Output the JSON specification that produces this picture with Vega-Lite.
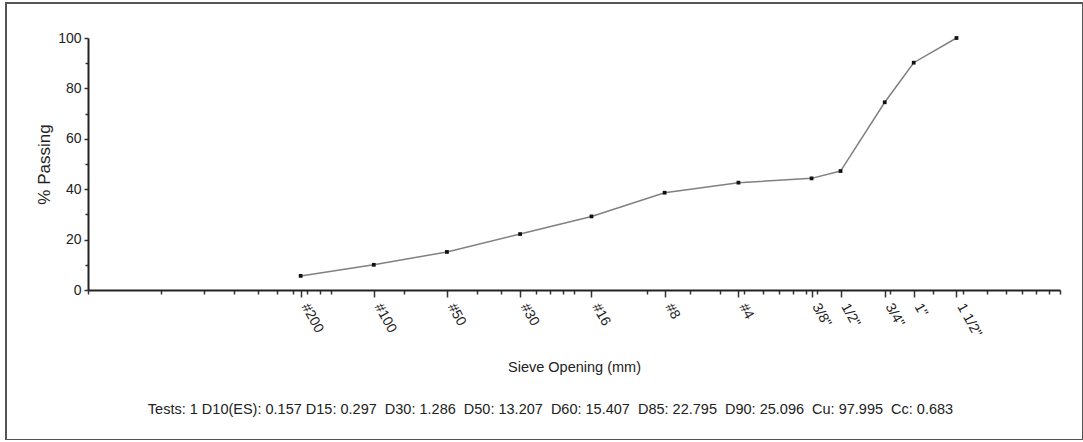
{
  "$schema": "https://vega.github.io/schema/vega-lite/v6.json",
  "width": 1077,
  "height": 437,
  "autosize": {"type": "none"},
  "padding": {"left": 6, "top": 3, "right": 0, "bottom": 0},
  "background": "white",
  "config": {
    "view": {"stroke": "#555555", "strokeWidth": 2},
    "font": "Liberation Sans"
  },
  "title": {
    "text": "Tests: 1 D10(ES): 0.157 D15: 0.297\u00a0 D30: 1.286\u00a0 D50: 13.207\u00a0 D60: 15.407\u00a0 D85: 22.795\u00a0 D90: 25.096\u00a0 Cu: 97.995\u00a0 Cc: 0.683",
    "orient": "bottom",
    "frame": "group",
    "anchor": "middle",
    "offset": -26,
    "baseline": "alphabetic",
    "dx": 6,
    "fontSize": 14.5,
    "fontWeight": "normal",
    "font": "Liberation Sans",
    "color": "#222222"
  },
  "data": {
    "values": [
      {"sieve": "#200", "mm": 0.075, "pct": 5.6},
      {"sieve": "#100", "mm": 0.15, "pct": 10.0},
      {"sieve": "#50", "mm": 0.3, "pct": 15.1},
      {"sieve": "#30", "mm": 0.6, "pct": 22.2},
      {"sieve": "#16", "mm": 1.18, "pct": 29.2},
      {"sieve": "#8", "mm": 2.36, "pct": 38.6},
      {"sieve": "#4", "mm": 4.75, "pct": 42.6},
      {"sieve": "3/8\"", "mm": 9.5, "pct": 44.3},
      {"sieve": "1/2\"", "mm": 12.5, "pct": 47.2},
      {"sieve": "3/4\"", "mm": 19, "pct": 74.5},
      {"sieve": "1\"", "mm": 25, "pct": 90.2},
      {"sieve": "1 1/2\"", "mm": 37.5, "pct": 100}
    ]
  },
  "encoding": {
    "x": {
      "field": "mm",
      "type": "quantitative",
      "scale": {"type": "log", "domain": [0.01, 100], "range": [82, 1054], "nice": false},
      "axis": {
        "orient": "bottom",
        "offset": -150,
        "title": "Sieve Opening (mm)",
        "titleFont": "Liberation Sans",
        "titleFontSize": 14.5,
        "titleFontWeight": "normal",
        "titleColor": "#222222",
        "titleBaseline": "alphabetic",
        "titleY": 81,
        "values": [0.01, 0.02, 0.03, 0.04, 0.05, 0.06, 0.07, 0.075, 0.08, 0.09, 0.1, 0.15, 0.2, 0.3, 0.4, 0.5, 0.6, 0.7, 0.8, 0.9, 1, 1.18, 2, 2.36, 3, 4, 4.75, 5, 6, 7, 8, 9, 9.5, 10, 12.5, 19, 20, 25, 30, 37.5, 40, 50, 60, 70, 80, 90, 100],
        "labelExpr": "datum.value == 0.075 ? '#200' : datum.value == 0.15 ? '#100' : datum.value == 0.3 ? '#50' : datum.value == 0.6 ? '#30' : datum.value == 1.18 ? '#16' : datum.value == 2.36 ? '#8' : datum.value == 4.75 ? '#4' : datum.value == 9.5 ? '3/8\"' : datum.value == 12.5 ? '1/2\"' : datum.value == 19 ? '3/4\"' : datum.value == 25 ? '1\"' : datum.value == 37.5 ? '1 1/2\"' : ''",
        "labelOverlap": false,
        "labelFlush": false,
        "labelAngle": 61,
        "labelAlign": "left",
        "labelBaseline": "alphabetic",
        "labelPadding": 9,
        "labelFontSize": 14,
        "labelColor": "#222222",
        "tickSize": {"condition": {"test": "indexof([0.075,0.15,0.3,0.6,1.18,2.36,4.75,9.5,12.5,19,25,37.5], datum.value) >= 0", "value": 7}, "value": 4},
        "tickColor": "#333333",
        "tickWidth": 1.5,
        "domainColor": "#222222",
        "domainWidth": 2,
        "grid": false
      }
    },
    "y": {
      "field": "pct",
      "type": "quantitative",
      "scale": {"domain": [0, 100], "range": [287, 35], "nice": false},
      "axis": {
        "orient": "left",
        "offset": -82,
        "title": "% Passing",
        "titleFont": "Liberation Sans",
        "titleFontSize": 17,
        "titleFontWeight": "normal",
        "titleColor": "#222222",
        "titleAngle": -90,
        "titleBaseline": "middle",
        "titleX": -44,
        "values": [0, 10, 20, 30, 40, 50, 60, 70, 80, 90, 100],
        "labelExpr": "datum.value % 20 == 0 ? datum.label : ''",
        "labelFontSize": 14,
        "labelColor": "#222222",
        "labelPadding": 3,
        "tickSize": {"condition": {"test": "datum.value % 20 == 0", "value": 4}, "value": 3},
        "tickColor": "#333333",
        "tickWidth": 1.5,
        "domainColor": "#222222",
        "domainWidth": 2,
        "grid": false
      }
    }
  },
  "layer": [
    {"mark": {"type": "line", "interpolate": "linear", "color": "#808080", "strokeWidth": 1.5}},
    {"mark": {"type": "point", "shape": "square", "size": 14, "filled": true, "opacity": 1, "color": "#111111"}}
  ]
}
